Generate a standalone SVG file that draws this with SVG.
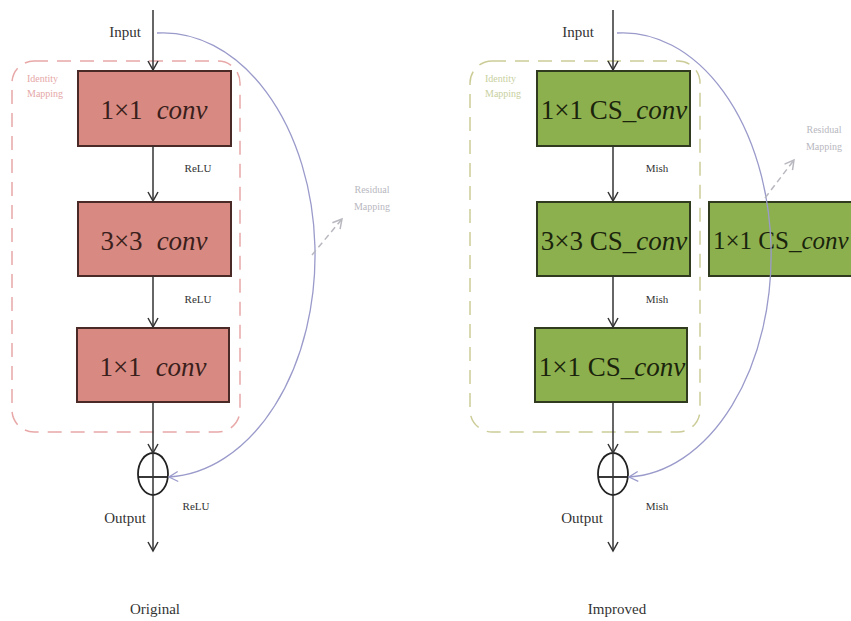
<svg xmlns="http://www.w3.org/2000/svg" width="851" height="621" viewBox="0 0 851 621">
<style>
.lbl{font-family:"Liberation Serif","Times New Roman",serif;fill:#333;}
.big{font-family:"Liberation Serif","Times New Roman",serif;font-size:27px;text-anchor:middle;}
.conv{font-style:italic;}
.red{fill:#d88a82;stroke:#4a2a26;stroke-width:2;}
.grn{fill:#8db04f;stroke:#2f3a1f;stroke-width:2;}
.line{stroke:#333;stroke-width:1.5;fill:none;}
.arc{stroke:#9a9acb;stroke-width:1.3;fill:none;}
.dash{stroke:#b8b8c0;stroke-width:1.5;fill:none;stroke-dasharray:6 4;}
</style>
<defs>
<marker id="ah" markerWidth="12" markerHeight="12" refX="10" refY="6" orient="auto" markerUnits="userSpaceOnUse">
<path d="M1,1 L10,6 L1,11" fill="none" stroke="#333" stroke-width="1.5"/>
</marker>
<marker id="ahb" markerWidth="12" markerHeight="12" refX="10" refY="6" orient="auto" markerUnits="userSpaceOnUse">
<path d="M1,1 L10,6 L1,11" fill="none" stroke="#9a9acb" stroke-width="1.3"/>
</marker>
<marker id="ahg" markerWidth="12" markerHeight="12" refX="10" refY="6" orient="auto" markerUnits="userSpaceOnUse">
<path d="M1,1 L10,6 L1,11" fill="none" stroke="#b8b8c0" stroke-width="1.5"/>
</marker>
</defs>
<rect width="851" height="621" fill="#fff"/>

<!-- Left: Original -->
<g id="identity-left">
<rect x="12" y="61" width="228" height="371" rx="22" fill="none" stroke="#e8a8a8" stroke-width="1.5" stroke-dasharray="14 9"/>
<text class="lbl" x="27" y="82" font-size="10" style="fill:#e6a8a8">Identity</text>
<text class="lbl" x="27" y="97" font-size="10" style="fill:#e6a8a8">Mapping</text>
</g>
<g id="l-box1"><rect class="red" x="78" y="71" width="153" height="75"/><text class="big" x="154" y="119" fill="#3a1f1c">1×1<tspan class="conv" dx="14">conv</tspan></text></g>
<g id="l-box2"><rect class="red" x="78" y="202" width="153" height="74"/><text class="big" x="154" y="250" fill="#3a1f1c">3×3<tspan class="conv" dx="14">conv</tspan></text></g>
<g id="l-box3"><rect class="red" x="77" y="328" width="152" height="74"/><text class="big" x="153" y="376" fill="#3a1f1c">1×1<tspan class="conv" dx="14">conv</tspan></text></g>
<g id="l-sum"><ellipse cx="153" cy="474" rx="15" ry="21" fill="none" stroke="#222" stroke-width="1.8"/><line x1="138" y1="477" x2="168" y2="477" stroke="#222" stroke-width="1.8"/></g>
<g id="l-texts">
<text class="lbl" x="125" y="37" font-size="15" text-anchor="middle">Input</text>
<text class="lbl" x="198" y="172" font-size="11" text-anchor="middle">ReLU</text>
<text class="lbl" x="198" y="303" font-size="11" text-anchor="middle">ReLU</text>
<text class="lbl" x="196" y="510" font-size="11" text-anchor="middle">ReLU</text>
<text class="lbl" x="125" y="523" font-size="15" text-anchor="middle">Output</text>
<text class="lbl" x="155" y="614" font-size="15" text-anchor="middle">Original</text>
<text class="lbl" x="372" y="193" font-size="10" text-anchor="middle" style="fill:#b8b8c0">Residual</text>
<text class="lbl" x="372" y="210" font-size="10" text-anchor="middle" style="fill:#b8b8c0">Mapping</text>
</g>

<!-- Right: Improved -->
<g id="identity-right">
<rect x="470" y="61" width="230" height="371" rx="22" fill="none" stroke="#cccc98" stroke-width="1.5" stroke-dasharray="14 9"/>
<text class="lbl" x="485" y="82" font-size="10" style="fill:#c8d0a0">Identity</text>
<text class="lbl" x="485" y="97" font-size="10" style="fill:#c8d0a0">Mapping</text>
</g>
<g id="r-box1"><rect class="grn" x="537" y="71" width="153" height="75"/><text class="big" x="614" y="119" fill="#1a240c">1×1 CS_<tspan class="conv">conv</tspan></text></g>
<g id="r-box2"><rect class="grn" x="537" y="202" width="153" height="74"/><text class="big" x="614" y="250" fill="#1a240c">3×3 CS_<tspan class="conv">conv</tspan></text></g>
<g id="r-box3"><rect class="grn" x="535" y="328" width="152" height="74"/><text class="big" x="612" y="376" fill="#1a240c">1×1 CS_<tspan class="conv">conv</tspan></text></g>
<g id="r-side"><rect class="grn" x="709" y="202" width="160" height="74"/><text class="big" x="713" y="249" font-size="25" fill="#1a240c" style="text-anchor:start;font-size:25px">1×1 CS_<tspan class="conv">conv</tspan></text></g>
<g id="r-sum"><ellipse cx="613" cy="474" rx="15" ry="21" fill="none" stroke="#222" stroke-width="1.8"/><line x1="598" y1="477" x2="628" y2="477" stroke="#222" stroke-width="1.8"/></g>
<g id="r-texts">
<text class="lbl" x="578" y="37" font-size="15" text-anchor="middle">Input</text>
<text class="lbl" x="657" y="172" font-size="11" text-anchor="middle">Mish</text>
<text class="lbl" x="657" y="303" font-size="11" text-anchor="middle">Mish</text>
<text class="lbl" x="657" y="510" font-size="11" text-anchor="middle">Mish</text>
<text class="lbl" x="582" y="523" font-size="15" text-anchor="middle">Output</text>
<text class="lbl" x="617" y="614" font-size="15" text-anchor="middle">Improved</text>
<text class="lbl" x="824" y="133" font-size="10" text-anchor="middle" style="fill:#b8b8c0">Residual</text>
<text class="lbl" x="824" y="150" font-size="10" text-anchor="middle" style="fill:#b8b8c0">Mapping</text>
</g>

<g id="connectors">
<line class="line" x1="153" y1="10" x2="153" y2="70" marker-end="url(#ah)"/>
<line class="line" x1="153" y1="146" x2="153" y2="201" marker-end="url(#ah)"/>
<line class="line" x1="153" y1="276" x2="153" y2="327" marker-end="url(#ah)"/>
<line class="line" x1="153" y1="402" x2="153" y2="453" marker-end="url(#ah)"/>
<line class="line" x1="153" y1="453" x2="153" y2="551" marker-end="url(#ah)"/>
<path class="arc" d="M157,33 A152,222 0 0 1 169,477" marker-end="url(#ahb)"/>
<line class="dash" x1="312" y1="255" x2="342" y2="219" marker-end="url(#ahg)"/>

<line class="line" x1="613" y1="10" x2="613" y2="70" marker-end="url(#ah)"/>
<line class="line" x1="613" y1="146" x2="613" y2="201" marker-end="url(#ah)"/>
<line class="line" x1="613" y1="276" x2="613" y2="327" marker-end="url(#ah)"/>
<line class="line" x1="613" y1="402" x2="613" y2="453" marker-end="url(#ah)"/>
<line class="line" x1="613" y1="453" x2="613" y2="551" marker-end="url(#ah)"/>
<path class="arc" d="M617,33 A148,222 0 0 1 629,477" marker-end="url(#ahb)"/>
<line class="dash" x1="765" y1="198" x2="794" y2="160" marker-end="url(#ahg)"/>
</g>
</svg>
